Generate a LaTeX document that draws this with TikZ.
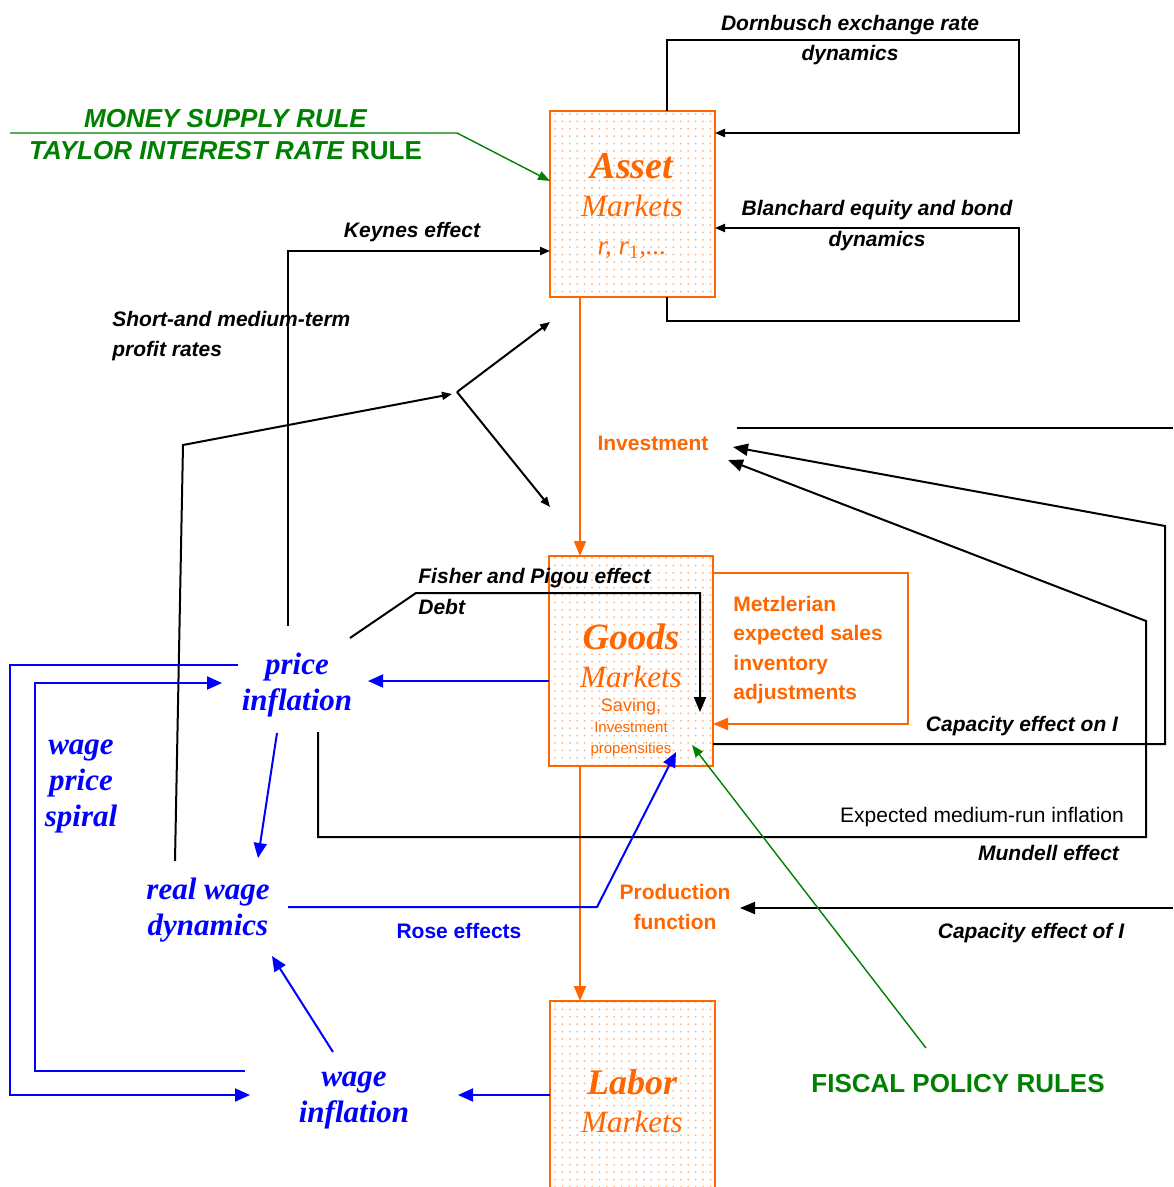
\documentclass[tikz,border=0pt]{standalone}
\usepackage{fontspec}
\setmainfont{Liberation Serif}
\setsansfont{Liberation Sans}
\usetikzlibrary{arrows.meta,patterns.meta}
\definecolor{mkorange}{RGB}{255,102,0}
\definecolor{mkgreen}{RGB}{0,128,0}
\definecolor{mkblue}{RGB}{0,0,255}
\newcommand\fsz[2]{\fontsize{#1}{#2}\selectfont}
\tikzset{
  market/.style={draw=mkorange, line width=1pt, pattern={Dots[distance=3.7pt,radius=0.5pt]}, pattern color=mkorange!50, inner sep=0pt, outer sep=0pt},
  mtext/.style={text=mkorange, font=\itshape\fsz{15.5}{19}, align=center, inner sep=0pt},
  effect/.style={font=\sffamily\bfseries\itshape\fsz{10.5}{15}, align=center, inner sep=0pt},
  olab/.style={text=mkorange, font=\sffamily\bfseries\fsz{10.5}{15}, align=center, inner sep=0pt},
  bvar/.style={text=mkblue, font=\bfseries\itshape\fsz{15.5}{18}, align=center, inner sep=0pt},
  blk/.style={line width=1pt, -{Triangle[length=5pt,width=4pt]}},
  blkL/.style={line width=1pt, -{Triangle[length=7.5pt,width=6pt]}},
  org/.style={color=mkorange, line width=1pt, -{Triangle[length=7.5pt,width=6pt]}},
  blu/.style={color=mkblue, line width=1pt, -{Triangle[length=7.5pt,width=6.5pt]}},
  grn/.style={color=mkgreen, line width=0.7pt, -{Triangle[length=6pt,width=4.5pt]}}
}
\begin{document}
\begin{tikzpicture}[x=0.5pt, y=-0.5pt]
\useasboundingbox (0,0) rectangle (1173,1187);
% markets
\node[market, minimum width=82.5pt, minimum height=93pt] (asset) at (632.5,204) {};
\node[market, minimum width=82pt, minimum height=105pt] (goods) at (631,661) {};
\node[market, minimum width=82.5pt, minimum height=100pt] (labor) at (632.5,1101) {};

% asset market loops
\coordinate (d1) at (667,40); \coordinate (d2) at (1019,40); \coordinate (d3) at (1019,133);
\draw[blk] (asset.north -| d1) -- (d1) -- (d2) -- (d3) -- (d3 -| asset.east);
\coordinate (b1) at (667,321); \coordinate (b2) at (1019,321); \coordinate (b3) at (1019,228);
\draw[blk] (asset.south -| b1) -- (b1) -- (b2) -- (b3) -- (b3 -| asset.east);
\coordinate (m1) at (10,133); \coordinate (m2) at (457,133); \coordinate (m3) at (0,181);
\draw[grn] (m1) -- (m2) -- (m3 -| asset.west);
\coordinate (k0) at (288,626); \coordinate (k1) at (288,251);
\draw[blk] (k0) -- (k1) -- (k1 -| asset.west);
\coordinate (p0) at (175,861); \coordinate (p1) at (183,445); \coordinate (p2) at (452,394);
\coordinate (p3) at (457,392); \coordinate (p4) at (550,322); \coordinate (p5) at (550,507);
\draw[blk] (p0) -- (p1) -- (p2);
\draw[blk] (p3) -- (p4);
\draw[blk] (p3) -- (p5);

% investment, production
\coordinate (ox) at (580,0);
\draw[org] (asset.south -| ox) -- (goods.north -| ox);
\draw[org] (goods.south -| ox) -- (labor.north -| ox);
\coordinate (t1) at (737,428); \coordinate (t2) at (1173,428);
\draw[line width=1pt] (t1) -- (t2);
\coordinate (c0) at (0,744); \coordinate (c1) at (1165,744); \coordinate (c2) at (1165,526); \coordinate (c3) at (733,447);
\draw[blkL] (c0 -| goods.east) -- (c1) -- (c2) -- (c3);
\coordinate (u0) at (318,732); \coordinate (u1) at (318,837); \coordinate (u2) at (1146,837);
\coordinate (u3) at (1146,621); \coordinate (u4) at (728,460);
\draw[blkL] (u0) -- (u1) -- (u2) -- (u3) -- (u4);
\coordinate (q0) at (1173,908); \coordinate (q1) at (740,908);
\draw[blkL] (q0) -- (q1);
\coordinate (z1) at (908,573); \coordinate (z2) at (908,724);
\draw[org] (z1 -| goods.east) -- (z1) -- (z2) -- (z2 -| goods.east);
\coordinate (f0) at (350,638); \coordinate (f1) at (416,593); \coordinate (f2) at (700,593); \coordinate (f3) at (700,712);
\draw[blkL] (f0) -- (f1) -- (f2) -- (f3);

% wage-price side
\coordinate (e1) at (368,681);
\draw[blu] (e1 -| goods.west) -- (e1);
\coordinate (s0) at (277,733); \coordinate (s1) at (258,858);
\draw[blu] (s0) -- (s1);
\coordinate (w0) at (333,1052); \coordinate (w1) at (272,956);
\draw[blu] (w0) -- (w1);
\coordinate (h1) at (458,1095);
\draw[blu] (h1 -| labor.west) -- (h1);
\coordinate (l0) at (238,665); \coordinate (l1) at (10,665); \coordinate (l2) at (10,1095); \coordinate (l3) at (250,1095);
\draw[blu] (l0) -- (l1) -- (l2) -- (l3);
\coordinate (i0) at (245,1071); \coordinate (i1) at (35,1071); \coordinate (i2) at (35,683); \coordinate (i3) at (222,683);
\draw[blu] (i0) -- (i1) -- (i2) -- (i3);
\coordinate (r0) at (288,907); \coordinate (r1) at (597,907); \coordinate (r2) at (676,752);
\draw[blu] (r0) -- (r1) -- (r2);
\coordinate (g0) at (926,1048); \coordinate (g1) at (692,745);
\draw[grn] (g0) -- (g1);

% texts
\node[mtext] (assetT) at (632,206) {{\fsz{19}{19}\bfseries Asset}\\Markets\\{\fsz{13.5}{19}r, r\textsubscript{\upshape 1},...}};
\node[mtext] (goodsT) at (631,656) {{\fsz{18.5}{19}\bfseries Goods}\\Markets};
\node[mtext, font=\sffamily\fsz{7.5}{10.5}] (goodsS) at (631,728) {{\fsz{9}{10.5}Saving,}\\Investment\\propensities};
\node[mtext] (laborT) at (632,1101) {{\fsz{18}{19}\bfseries Labor}\\Markets};
\node[bvar] (pinf) at (297,685) {price\\inflation};
\node[bvar] (spiral) at (81,786) {wage\\price\\spiral};
\node[bvar] (rwage) at (208,910) {real wage\\dynamics};
\node[bvar] (winf) at (354,1100) {wage\\inflation};
\node[effect] (dorn) at (850,40) {Dornbusch exchange rate\\dynamics};
\node[effect, font=\sffamily\bfseries\itshape\fsz{10.5}{15.5}] (blan) at (877,226) {Blanchard equity and bond\\dynamics};
\node[text=mkgreen, font=\sffamily\bfseries\fsz{13}{16}, align=center, inner sep=0pt] (rule) at (225.5,135)
  {{\itshape MONEY SUPPLY RULE}\\{\itshape TAYLOR INTEREST RATE} RULE};
\node[effect] (keynes) at (412,232) {Keynes effect};
\node[effect, align=left, anchor=west] (profit) at (112,336) {Short-and medium-term\\profit rates};
\node[olab] (invest) at (653,443) {Investment};
\node[effect, anchor=west] (fisher) at (418,578) {Fisher and Pigou effect};
\node[effect, anchor=west] (debt) at (418,607) {Debt};
\node[olab, align=left, anchor=west, font=\sffamily\bfseries\fsz{10.5}{14.8}] (metz) at (733,650)
  {Metzlerian\\expected sales\\inventory\\adjustments};
\node[effect] (capon) at (1022,726) {Capacity effect on I};
\node[font=\sffamily\fsz{10.5}{15}, inner sep=0pt] (expinf) at (982,817) {Expected medium-run inflation};
\node[effect] (mundell) at (1048.5,853) {Mundell effect};
\node[olab] (prod) at (675,907) {Production\\function};
\node[olab, text=mkblue] (rose) at (459,931) {Rose effects};
\node[effect] (capof) at (1031,933) {Capacity effect of I};
\node[text=mkgreen, font=\sffamily\bfseries\fsz{13}{16}, inner sep=0pt] (fiscal) at (958,1084) {FISCAL POLICY RULES};
\end{tikzpicture}
\end{document}
